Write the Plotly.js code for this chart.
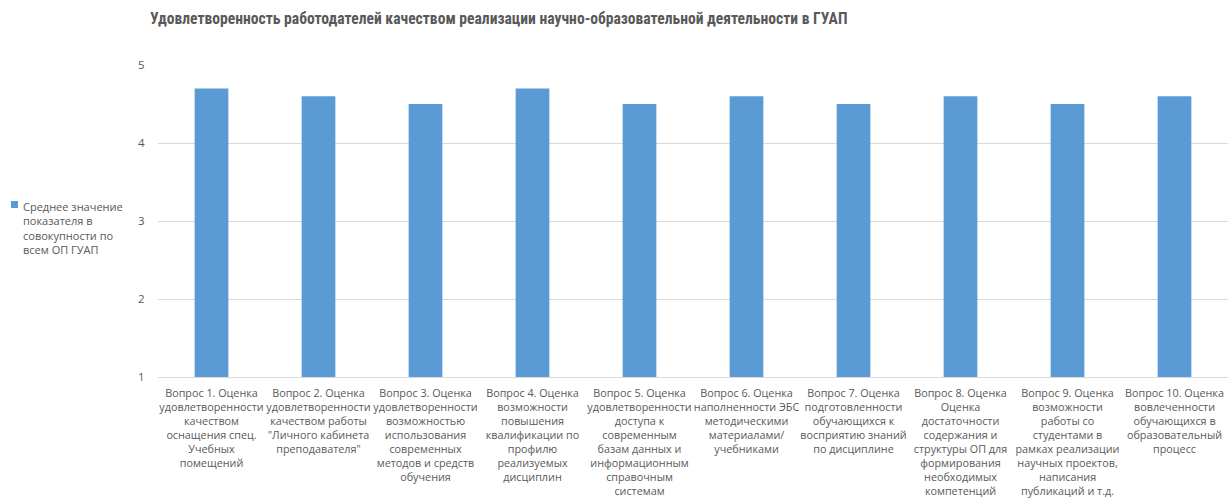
<!DOCTYPE html>
<html>
<head>
<meta charset="utf-8">
<script src="https://cdn.plot.ly/plotly-3.0.1.min.js"></script>
<style>html,body{margin:0;padding:0;background:#fff;overflow:hidden}#chart{width:1228px;height:504px}</style>
</head>
<body>
<div id="chart"></div>
<script>
const categories = [
  "Вопрос 1. Оценка<br>удовлетворенности<br>качеством<br>оснащения спец.<br>Учебных<br>помещений",
  "Вопрос 2. Оценка<br>удовлетворенности<br>качеством работы<br>\"Личного кабинета<br>преподавателя\"",
  "Вопрос 3. Оценка<br>удовлетворенности<br>возможностью<br>использования<br>современных<br>методов и средств<br>обучения",
  "Вопрос 4. Оценка<br>возможности<br>повышения<br>квалификации по<br>профилю<br>реализуемых<br>дисциплин",
  "Вопрос 5. Оценка<br>удовлетворенности<br>доступа к<br>современным<br>базам данных и<br>информационным<br>справочным<br>системам",
  "Вопрос 6. Оценка<br>наполненности ЭБС<br>методическими<br>материалами/<br>учебниками",
  "Вопрос 7. Оценка<br>подготовленности<br>обучающихся к<br>восприятию знаний<br>по дисциплине",
  "Вопрос 8. Оценка<br>Оценка<br>достаточности<br>содержания и<br>структуры ОП для<br>формирования<br>необходимых<br>компетенций",
  "Вопрос 9. Оценка<br>возможности<br>работы со<br>студентами в<br>рамках реализации<br>научных проектов,<br>написания<br>публикаций и т.д.",
  "Вопрос 10. Оценка<br>вовлеченности<br>обучающихся в<br>образовательный<br>процесс"
];
const values = [4.7, 4.6, 4.5, 4.7, 4.5, 4.6, 4.5, 4.6, 4.5, 4.6];
const seriesName = "Среднее значение<br>показателя в<br>совокупности по<br>всем ОП ГУАП";
const titleText = "Удовлетворенность работодателей качеством реализации научно-образовательной деятельности в ГУАП";
const yTicks = [1, 2, 3, 4, 5];

const W = 1228, H = 504, L = 158, R = 0, T = 65, B = 127;
const PW = W - L - R, PH = H - T - B;
const px = v => (v - L) / PW;
const py = v => (H - B - v) / PH;

const font = "Open Sans, Liberation Sans, sans-serif";
const barColor = "#5b9bd5";
const trace = {
  type: "bar",
  x: categories,
  y: values,
  name: seriesName,
  marker: {color: barColor},
  showlegend: false,
  hoverinfo: "y"
};
const layout = {
  width: W, height: H,
  margin: {l: L, r: R, t: T, b: B},
  paper_bgcolor: "#fff", plot_bgcolor: "#fff",
  font: {family: font, color: "#595959", size: 11},
  title: {text: "<b>" + titleText + "</b>", x: 150/W, xanchor: "left", y: 1 - 19/H, yanchor: "middle",
          font: {family: "Liberation Sans Narrow, Roboto Condensed, Liberation Sans, sans-serif", size: 15.6, color: "#595959"}},
  bargap: 0.685,
  xaxis: {type: "category", showgrid: false, zeroline: false, showline: true, linecolor: "#d9d9d9", linewidth: 1,
          ticks: "outside", ticklen: 6, tickcolor: "rgba(0,0,0,0)", tickangle: 0,
          tickfont: {family: font, size: 10.8, color: "#595959"}, automargin: false},
  yaxis: {range: [1, 5], tickvals: yTicks, showgrid: true, gridcolor: "#d9d9d9", gridwidth: 1, zeroline: false,
          showline: false, ticks: "outside", ticklen: 10, tickcolor: "rgba(0,0,0,0)",
          tickfont: {family: font, size: 11.5, color: "#595959"}, automargin: false},
  showlegend: false,
  shapes: [{type: "rect", xref: "paper", yref: "paper",
            x0: px(11), x1: px(18), y0: py(201), y1: py(208),
            fillcolor: barColor, line: {width: 0}}],
  annotations: [{xref: "paper", yref: "paper", x: px(21), y: py(197), xanchor: "left", yanchor: "top",
                 align: "left", showarrow: false, text: seriesName,
                 font: {family: font, size: 11, color: "#595959"}}]
};
Plotly.newPlot("chart", [trace], layout, {displayModeBar: false, staticPlot: true});
</script>
</body>
</html>
